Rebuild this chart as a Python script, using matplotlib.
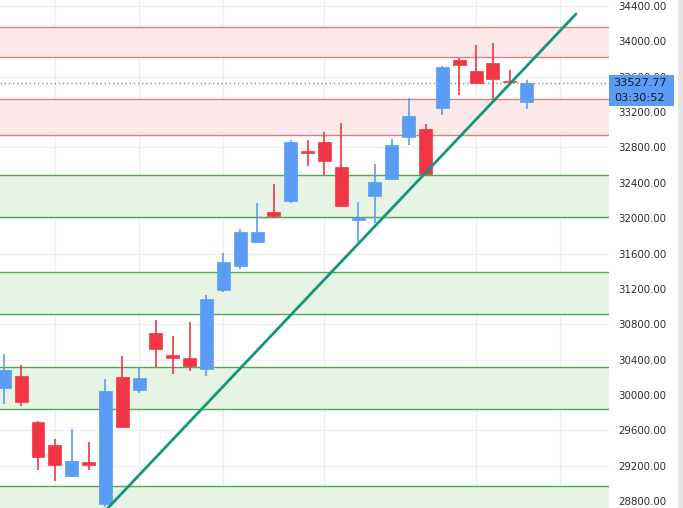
import matplotlib
matplotlib.use("Agg")
import matplotlib.pyplot as plt
from matplotlib.patches import Rectangle
from matplotlib.ticker import FixedLocator, FuncFormatter
import numpy as np

# ---- data ----
opens  = [30082, 30214, 29694, 29434, 29086, 29241, 28766, 30203, 30056, 30701,
          30452, 30418, 30297, 31191, 31462, 31734, 32070, 32197, 32760, 32861,
          32579, 31987, 32254, 32446, 32921, 33009, 33250, 33786, 33661, 33755,
          33552, 33317]
highs  = [30463, 30339, 29700, 29501, 29615, 29468, 30180, 30440, 30316, 30848,
          30667, 30825, 31131, 31606, 31877, 32171, 32386, 32884, 32884, 32971,
          33076, 32186, 32613, 32895, 33356, 33062, 33725, 33812, 33959, 33981,
          33676, 33559]
lows   = [29897, 29878, 29151, 29030, 29080, 29151, 28736, 29629, 30022, 30313,
          30240, 30274, 30218, 31168, 31428, 31730, 32005, 32166, 32593, 32488,
          32135, 31727, 31948, 32432, 32831, 32488, 33170, 33397, 33520, 33322,
          33540, 33238]
closes = [30282, 29920, 29298, 29207, 29253, 29207, 30045, 29641, 30192, 30523,
          30421, 30331, 31085, 31504, 31843, 31843, 32024, 32858, 32734, 32650,
          32141, 31998, 32409, 32828, 33152, 32499, 33710, 33736, 33526, 33578,
          33540, 33527.77]

last_price = 33527.77
countdown = "03:30:52"

red_zones   = [(33823, 34162), (32941, 33348)]
green_zones = [(32013, 32488), (30915, 31391), (29841, 30316), (28495, 28970)]

trend_x = [6.15, 33.93]
trend_y = [28721, 34309.5]

price_ticks = list(range(28800, 34401, 400))
time_grid_idx = [3, 8, 13, 19, 28, 33]

# ---- style ----
UP = "#5b9cf6"
DOWN = "#f23645"
W, H = 683, 508
fig = plt.figure(figsize=(W / 100, H / 100), dpi=100)
fig.patch.set_facecolor("white")
ax = fig.add_axes([0, 0, 609 / W, 1])
ax.set_facecolor("white")

ax.set_xlim(-0.255, 35.89)
ax.set_ylim(28721, 34468)

for s in ax.spines.values():
    s.set_visible(False)

# grid
for y in price_ticks:
    ax.axhline(y, color="#eef0f4", lw=1, zorder=0)
for x in time_grid_idx:
    ax.axvline(x, color="#eceef2", lw=1, zorder=0)

# zones
for lo, hi in red_zones:
    ax.axhspan(lo, hi, facecolor="#fde6e7", edgecolor="none", zorder=0.5, alpha=0.85)
    ax.axhline(lo, color="#e07c80", lw=1, zorder=1)
    ax.axhline(hi, color="#e07c80", lw=1, zorder=1)
for lo, hi in green_zones:
    ax.axhspan(lo, hi, facecolor="#e5f3e3", edgecolor="none", zorder=0.5, alpha=0.9)
    ax.axhline(lo, color="#52a852", lw=1, zorder=1)
    ax.axhline(hi, color="#52a852", lw=1, zorder=1)

# candles
idx = np.arange(len(opens))
o = np.array(opens, float); c = np.array(closes, float)
h = np.array(highs, float); l = np.array(lows, float)
colors = [UP if cc >= oo else DOWN for oo, cc in zip(o, c)]
ax.vlines(idx, l, h, colors=colors, lw=1.2, zorder=3)
bottoms = np.minimum(o, c)
heights = np.maximum(np.abs(c - o), 22)
bottoms = np.where(np.abs(c - o) < 22, (o + c) / 2 - 11, bottoms)
ax.bar(idx, heights, bottom=bottoms, width=0.77, color=colors, edgecolor=colors,
       lw=0.5, zorder=4)

# last price dotted line
ax.axhline(last_price, color="#7d8aa3", lw=1, ls=(0, (1, 2)), zorder=2)

# trend line
ax.plot(trend_x, trend_y, color="#12977b", lw=2, zorder=5, solid_capstyle="round")

# y axis on right
ax.yaxis.tick_right()
ax.yaxis.set_major_locator(FixedLocator(price_ticks))
ax.yaxis.set_major_formatter(FuncFormatter(lambda v, p: f"{v:.2f}"))
ax.tick_params(axis="y", length=0, pad=7, labelsize=7.4, labelcolor="#2a2e39")
ax.set_xticks([])

# price label
fig.canvas.draw()
px, py = ax.transData.transform((ax.get_xlim()[1], last_price))
box_l, box_r = px, px + 65
box_t, box_b = py + 8, py - 23
rect = Rectangle((box_l / W, box_b / H), (box_r - box_l) / W, (box_t - box_b) / H,
                 transform=fig.transFigure, facecolor=UP, edgecolor="none", zorder=10)
fig.patches.append(rect)
fig.text((box_l + 31) / W, py / H, f"{last_price:.2f}", ha="center", va="center",
         fontsize=8.1, color="#131722", zorder=11)
fig.text((box_l + 31) / W, (py - 15) / H, countdown, ha="center", va="center",
         fontsize=8.1, color="#131722", zorder=11)

# right grey strip
fig.patches.append(Rectangle((678 / W, 0), 5 / W, 1, transform=fig.transFigure,
                             facecolor="#e6e6e6", edgecolor="none", zorder=0))

fig.savefig("out.png", dpi=100)
